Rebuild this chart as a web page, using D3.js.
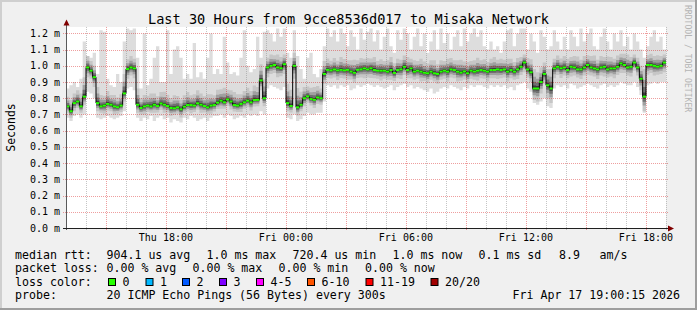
<!DOCTYPE html>
<html>
<head>
<meta charset="utf-8">
<script src="https://cdn.jsdelivr.net/npm/d3@7"></script>
<style>
body { margin: 0; background: #f0f0f0; }
svg { display: block; font-family: "DejaVu Sans Mono", monospace; }
text { white-space: pre; }
</style>
</head>
<body>
<div id="chart"></div>
<script>

const W = 697;
const H = 310;

// time window: 30 hours, one value every 10 minutes
const start = new Date(2026, 3, 16, 13, 0, 15);
const end = new Date(2026, 3, 17, 19, 0, 15);

// median rtt (ms)
const median = [
  0.75,0.72,0.77,0.78,0.75,0.81,0.99,0.97,0.93,0.77,
  0.75,0.755,0.765,0.76,0.75,0.745,0.755,0.83,0.98,0.99,
  0.984,0.76,0.74,0.75,0.755,0.75,0.76,0.752,0.768,0.76,
  0.752,0.74,0.738,0.744,0.732,0.748,0.758,0.758,0.755,0.769,
  0.76,0.752,0.744,0.755,0.758,0.773,0.785,0.775,0.793,0.78,
  0.758,0.755,0.765,0.775,0.785,0.775,0.789,0.79,0.91,0.80,
  0.99,1.0,1.005,0.99,0.985,1.01,0.77,0.752,1.0,0.744,
  0.76,0.80,0.812,0.795,0.79,0.805,0.80,0.95,0.975,0.972,
  0.978,0.972,0.975,0.972,0.975,0.965,0.957,0.975,0.978,0.984,
  0.978,0.985,0.974,0.97,0.97,0.97,0.964,0.974,0.956,0.974,
  0.978,0.994,0.974,0.984,0.964,0.97,0.964,0.957,0.954,0.964,
  0.954,0.95,0.964,0.97,0.964,0.978,0.974,0.964,0.958,0.966,
  0.954,0.97,0.964,0.97,0.974,0.97,0.964,0.974,0.974,0.978,
  0.974,0.978,0.964,0.974,0.964,0.978,0.994,1.02,0.978,0.96,
  0.86,0.86,0.90,0.95,0.88,0.86,0.984,0.994,0.985,0.99,
  0.974,0.994,0.99,0.978,0.978,0.99,1.005,0.99,0.984,0.978,
  0.99,0.994,0.978,0.984,0.984,0.994,1.015,1.005,0.99,0.994,
  1.02,0.99,0.92,0.81,1.005,1.005,1.0,0.995,1.0,1.02
];

// slowest ping of each round (ms)
const pingMax = [
  0.86,0.88,0.90,0.87,0.92,1.15,1.06,1.05,1.08,0.95,
  1.22,1.21,0.92,0.88,0.87,0.95,0.90,1.15,1.23,1.22,
  1.23,1.05,0.86,1.20,0.88,0.92,1.05,1.12,0.90,0.90,
  1.22,0.95,1.10,1.12,1.05,0.92,0.95,0.92,1.14,0.93,
  0.96,0.92,1.05,1.20,0.95,0.98,0.95,1.18,1.02,0.95,
  0.96,0.94,1.05,1.22,1.00,0.96,0.98,1.18,1.05,1.21,
  1.22,1.20,1.15,1.23,1.18,1.23,1.08,1.05,1.22,1.06,
  0.98,0.92,1.05,1.08,0.95,0.93,0.98,1.12,1.23,1.18,
  1.22,1.15,1.23,1.20,1.12,1.22,1.18,1.10,1.23,1.16,
  1.21,1.23,1.15,1.22,1.10,1.18,1.23,1.12,1.08,1.22,
  1.16,1.23,1.20,1.10,1.18,1.23,1.12,1.20,1.08,1.15,
  1.22,1.10,1.23,1.14,1.20,1.10,1.18,1.22,1.12,1.23,
  1.15,1.20,1.23,1.18,1.22,1.12,1.10,1.15,1.10,1.12,
  1.08,1.15,1.22,1.23,1.12,1.20,1.23,1.23,1.10,1.20,
  1.15,1.08,1.22,1.18,1.10,1.12,1.22,1.15,1.10,1.18,
  1.10,1.22,1.18,1.12,1.23,1.15,1.20,1.23,1.12,1.10,
  1.18,1.23,1.15,1.10,1.20,1.15,1.22,1.12,1.18,1.10,
  1.20,1.15,1.10,1.05,1.12,1.18,1.22,1.15,1.18,1.10
];

// fastest ping of each round (ms)
const pingMin = [
  0.68,0.66,0.69,0.70,0.68,0.70,0.84,0.83,0.80,0.68,
  0.67,0.68,0.69,0.68,0.67,0.68,0.69,0.72,0.86,0.87,
  0.85,0.68,0.66,0.68,0.67,0.69,0.66,0.68,0.69,0.67,
  0.68,0.65,0.67,0.66,0.65,0.68,0.67,0.69,0.68,0.66,
  0.67,0.68,0.66,0.68,0.69,0.69,0.70,0.68,0.70,0.69,
  0.67,0.68,0.69,0.68,0.70,0.69,0.70,0.69,0.72,0.70,
  0.86,0.88,0.87,0.86,0.85,0.87,0.68,0.67,0.70,0.66,
  0.67,0.69,0.71,0.70,0.70,0.71,0.71,0.78,0.88,0.87,
  0.88,0.86,0.88,0.87,0.88,0.85,0.86,0.88,0.87,0.88,
  0.89,0.88,0.87,0.88,0.87,0.86,0.87,0.88,0.85,0.87,
  0.88,0.89,0.87,0.88,0.86,0.87,0.86,0.85,0.84,0.86,
  0.83,0.84,0.86,0.87,0.86,0.88,0.87,0.86,0.85,0.87,
  0.86,0.88,0.87,0.88,0.88,0.87,0.86,0.88,0.87,0.88,
  0.87,0.88,0.86,0.87,0.85,0.88,0.89,0.90,0.86,0.84,
  0.77,0.76,0.78,0.80,0.75,0.74,0.86,0.88,0.87,0.88,
  0.86,0.89,0.88,0.86,0.87,0.88,0.89,0.88,0.87,0.86,
  0.88,0.89,0.87,0.88,0.87,0.88,0.90,0.89,0.88,0.88,
  0.90,0.87,0.82,0.71,0.88,0.89,0.90,0.89,0.90,0.90
];

// thickness of the dense smoke above / below the median (ms)
const spreadUp = [
  .06,.07,.06,.07,.08,.12,.07,.06,.07,.10,
  .07,.06,.08,.06,.07,.06,.07,.12,.06,.07,
  .06,.10,.06,.07,.06,.08,.07,.06,.07,.08,
  .07,.06,.08,.07,.06,.07,.08,.06,.07,.08,
  .07,.06,.08,.07,.06,.08,.07,.09,.06,.07,
  .08,.07,.06,.07,.08,.07,.09,.08,.10,.12,
  .06,.07,.06,.08,.07,.06,.12,.10,.08,.12,
  .08,.07,.06,.07,.08,.07,.06,.08,.07,.06,
  .07,.06,.08,.07,.06,.07,.08,.06,.07,.06,
  .07,.06,.08,.06,.07,.06,.07,.08,.06,.07,
  .06,.07,.08,.06,.07,.06,.08,.07,.06,.07,
  .08,.06,.07,.06,.08,.07,.06,.07,.08,.06,
  .07,.06,.07,.08,.06,.07,.06,.07,.08,.06,
  .07,.06,.08,.07,.06,.07,.06,.05,.07,.08,
  .12,.10,.09,.07,.10,.12,.06,.07,.06,.07,
  .07,.06,.07,.08,.06,.07,.06,.07,.08,.06,
  .07,.06,.08,.07,.06,.07,.06,.07,.08,.06,
  .05,.06,.08,.17,.06,.07,.06,.07,.06,.05
];
const spreadDown = [
  .04,.04,.05,.04,.04,.05,.06,.05,.06,.05,
  .04,.05,.04,.04,.05,.04,.04,.05,.06,.05,
  .06,.05,.04,.05,.04,.04,.05,.04,.04,.05,
  .04,.05,.04,.04,.05,.04,.04,.05,.04,.04,
  .05,.04,.04,.05,.04,.04,.05,.04,.04,.05,
  .04,.04,.05,.04,.04,.05,.04,.04,.06,.05,
  .06,.05,.05,.06,.05,.06,.05,.04,.08,.05,
  .04,.05,.04,.04,.05,.04,.04,.06,.05,.05,
  .05,.06,.05,.05,.06,.05,.06,.05,.05,.06,
  .05,.06,.05,.05,.06,.05,.05,.06,.05,.05,
  .06,.05,.05,.06,.05,.05,.06,.05,.06,.05,
  .05,.06,.05,.05,.06,.05,.05,.06,.05,.05,
  .06,.05,.05,.06,.05,.05,.06,.05,.05,.06,
  .05,.05,.06,.05,.05,.06,.05,.06,.05,.06,
  .07,.08,.07,.06,.08,.09,.06,.05,.06,.05,
  .05,.06,.05,.05,.06,.05,.06,.05,.05,.06,
  .05,.06,.05,.05,.06,.05,.06,.05,.05,.06,
  .05,.05,.07,.09,.06,.05,.06,.05,.05,.06
];

const title = "Last 30 Hours from 9cce8536d017 to Misaka Network";
const yTicks = [0.0,0.1,0.2,0.3,0.4,0.5,0.6,0.7,0.8,0.9,1.0,1.1,1.2];
const rttStats = ["median rtt:", "904.1 us avg", "1.0 ms max", "720.4 us min", "1.0 ms now", "0.1 ms sd", "8.9", "am/s"];
const lossStats = ["packet loss:", "0.00 % avg", "0.00 % max", "0.00 % min", "0.00 % now"];
const lossLabels = ["0", "1", "2", "3", "4-5", "6-10", "11-19", "20/20"];
const lossColors = ["#26ff00", "#00b8ff", "#0059ff", "#7e00ff", "#ff00ff", "#ff5500", "#ff0000", "#a10000"];
const probeText = ["probe:", "20 ICMP Echo Pings (56 Bytes) every 300s", "Fri Apr 17 19:00:15 2026"];

// ---- layout
const plot = {left: 66, right: 666, top: 27, bottom: 228};

const svg = d3.select("#chart").append("svg")
    .attr("width", W)
    .attr("height", H);

svg.append("rect").attr("width", W).attr("height", H).attr("fill", "#f0f0f0");
// bevel border
svg.append("path").attr("d", `M1,${H} V1 H${W}`).attr("stroke", "#cfcfcf").attr("stroke-width", 2).attr("fill", "none");
svg.append("path").attr("d", `M0,${H-1} H${W-1} V0`).attr("stroke", "#9e9e9e").attr("stroke-width", 2).attr("fill", "none");

const x = d3.scaleTime().domain([start, end]).range([plot.left, plot.right]);
const y = d3.scaleLinear().domain([0, 1.24]).range([plot.bottom, 26.9]).clamp(true);

svg.append("rect")
    .attr("x", plot.left).attr("y", plot.top)
    .attr("width", plot.right - plot.left).attr("height", plot.bottom - plot.top)
    .attr("fill", "#fff");

// rows, plus one closing row so the last step reaches the right edge
const rows = median.map((m, i) => ({
  t: new Date(start.getTime() + i * 600e3),
  m: m, max: pingMax[i], min: pingMin[i], su: spreadUp[i], sd: spreadDown[i]
}));
rows.push(Object.assign({}, rows[rows.length - 1], {t: end}));

// smoke, light outside to dark at the median
const smoke = [
  {lo: d => d.min, hi: d => d.max, c: "#dddddd"},
  {lo: d => d.m - d.sd, hi: d => d.m + d.su, c: "#c6c6c6"},
  {lo: d => d.m - d.sd * 0.6, hi: d => d.m + d.su * 0.6, c: "#a0a0a0"},
  {lo: d => d.m - d.sd * 0.35, hi: d => d.m + d.su * 0.35, c: "#707070"},
  {lo: d => d.m - d.sd * 0.15, hi: d => d.m + d.su * 0.15, c: "#3a3a3a"}
];
svg.append("g").selectAll("path")
  .data(smoke)
  .join("path")
    .attr("fill", d => d.c)
    .attr("d", s => d3.area()
        .x(d => x(d.t))
        .y0(d => y(s.lo(d)))
        .y1(d => y(s.hi(d)))
        .curve(d3.curveStepAfter)(rows));

// grid
const grid = svg.append("g").attr("fill", "none").attr("stroke-dasharray", "1,1");
const hours = d3.timeHour.range(d3.timeHour.ceil(start), new Date(end.getTime() + 1));
grid.selectAll("line.v")
  .data(hours)
  .join("line")
    .attr("x1", d => Math.round(x(d)) + 0.5)
    .attr("x2", d => Math.round(x(d)) + 0.5)
    .attr("y1", plot.top)
    .attr("y2", plot.bottom + 2)
    .attr("stroke", d => d.getHours() % 3 === 0 ? "rgba(210,0,0,0.38)" : "rgba(140,140,140,0.5)");
grid.selectAll("line.h")
  .data(yTicks.slice(1))
  .join("line")
    .attr("x1", plot.left - 3)
    .attr("x2", plot.right + 2)
    .attr("y1", d => Math.round(y(d)) + 0.5)
    .attr("y2", d => Math.round(y(d)) + 0.5)
    .attr("stroke", "rgba(210,0,0,0.38)");

// median: black steps, green where loss is 0
svg.append("path")
    .datum(rows)
    .attr("fill", "none")
    .attr("stroke", "#000")
    .attr("stroke-width", 1)
    .attr("d", d3.line().x(d => x(d.t)).y(d => y(d.m)).curve(d3.curveStepAfter));
svg.append("g").selectAll("path")
  .data(rows.slice(0, -1))
  .join("path")
    .attr("stroke", lossColors[0])
    .attr("stroke-width", 2)
    .attr("d", (d, i) => `M${x(d.t)},${y(d.m)}H${x(rows[i + 1].t)}`);

// axes
svg.append("line")
    .attr("x1", plot.left + 0.5).attr("x2", plot.left + 0.5)
    .attr("y1", plot.bottom + 2).attr("y2", 23)
    .attr("stroke", "#5a5a5a");
svg.append("line")
    .attr("x1", plot.left - 3).attr("x2", plot.right + 3)
    .attr("y1", plot.bottom + 0.5).attr("y2", plot.bottom + 0.5)
    .attr("stroke", "#202020");
svg.append("path")
    .attr("d", `M${plot.left - 2.5},${25.5} L${plot.left + 0.5},${19.5} L${plot.left + 3.5},${25.5}Z`)
    .attr("fill", "#800000");
svg.append("path")
    .attr("d", `M${plot.right + 2},${plot.bottom - 2.5} L${plot.right + 8},${plot.bottom + 0.5} L${plot.right + 2},${plot.bottom + 3.5}Z`)
    .attr("fill", "#800000");

// y labels
svg.append("g").selectAll("text")
  .data(yTicks)
  .join("text")
    .attr("x", 60)
    .attr("y", d => y(d) + 3.5)
    .attr("text-anchor", "end")
    .attr("font-size", 10)
    .text(d => d.toFixed(1) + " m");

// x labels
const xLab = d3.timeHour.every(6).range(start, end);
svg.append("g").selectAll("text")
  .data(xLab)
  .join("text")
    .attr("x", d => x(d))
    .attr("y", 241)
    .attr("text-anchor", "middle")
    .attr("font-size", 10)
    .text(d3.timeFormat("%a %H:%M"));

// titles
svg.append("text")
    .attr("x", W / 2).attr("y", 24)
    .attr("text-anchor", "middle")
    .attr("font-size", 13.6)
    .text(title);
svg.append("text")
    .attr("transform", "translate(15,127.5) rotate(-90)")
    .attr("text-anchor", "middle")
    .attr("font-size", 11.5)
    .text("Seconds");
svg.append("text")
    .attr("transform", "translate(685,5) rotate(90)")
    .attr("font-size", 8.1)
    .attr("fill", "#b4b4b4")
    .text("RRDTOOL / TOBI OETIKER");

// legend
const legend = svg.append("g").attr("font-size", 11.6);
const rttX = [15, 106.5, 206.5, 292.5, 392.5, 478.5, 559, 599.5];
const lossX = [15, 106.5, 192.5, 278.5, 365];
legend.selectAll("text.rtt").data(rttStats).join("text")
    .attr("x", (d, i) => rttX[i]).attr("y", 258.5).text(d => d);
legend.selectAll("text.loss").data(lossStats).join("text")
    .attr("x", (d, i) => lossX[i]).attr("y", 272).text(d => d);

legend.append("text").attr("x", 15).attr("y", 285.5).text("loss color:");
const boxX = [108, 145.5, 182, 219, 256, 307, 365.5, 430.5];
const keys = legend.selectAll("g.key").data(lossLabels).join("g")
    .attr("transform", (d, i) => `translate(${boxX[i]},0)`);
keys.append("rect")
    .attr("x", 0.5).attr("y", 278.5)
    .attr("width", 7).attr("height", 7)
    .attr("fill", (d, i) => lossColors[i])
    .attr("stroke", "#000");
keys.append("text")
    .attr("x", 14.5).attr("y", 285.5)
    .text(d => d);

const probeX = [15, 106.5, 512.5];
legend.selectAll("text.probe").data(probeText).join("text")
    .attr("x", (d, i) => probeX[i]).attr("y", 299).text(d => d);

</script>
</body>
</html>
